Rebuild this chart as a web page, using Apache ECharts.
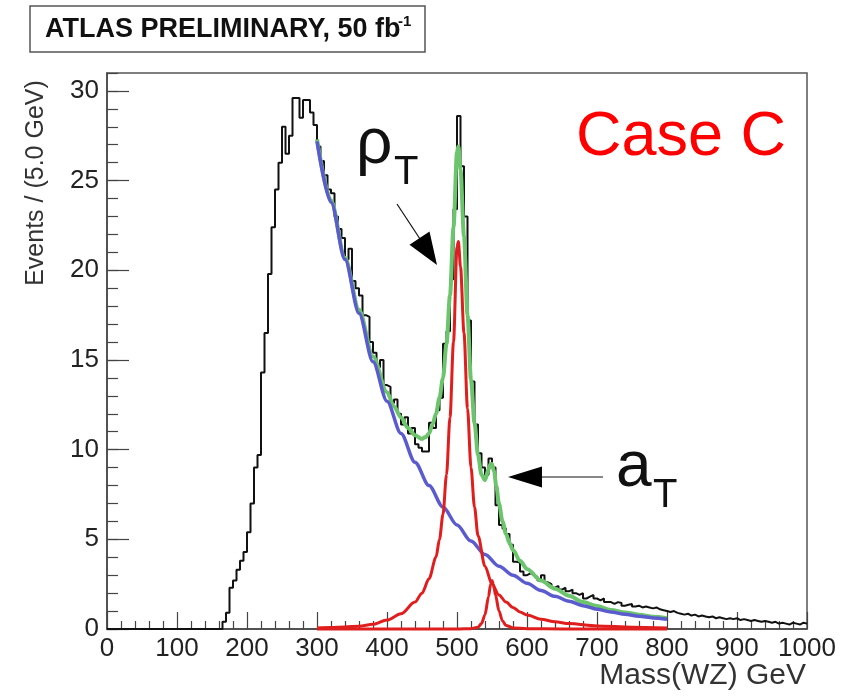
<!DOCTYPE html>
<html><head><meta charset="utf-8">
<script src="https://cdn.jsdelivr.net/npm/echarts@6/dist/echarts.min.js"></script>
<style>html,body{margin:0;padding:0;background:#fff}#c{width:849px;height:698px}</style>
</head><body><div id="c"></div>
<script>
// ---- data ----
const binWidth = 5;           // GeV per bin
const histLow = 160;          // lower edge of first listed bin
const histHigh = 1000;
const histValues = [
  0, 0.4, 0.9, 2.3, 2.7, 3.3, 3.8, 4.3,
  5.4, 7.0, 9.0, 9.7, 14.3, 16.5, 19.8, 22.4, 24.5, 26.0, 28.0, 26.5, 27.5, 29.6, 29.6, 28.5, 29.5, 29.5, 28.8, 28.1,
  26.9, 26.1, 25.3, 24.5, 24.3, 23.0, 22.3, 21.8, 20.6, 21.2, 19.4, 19.0, 18.6, 17.5, 17.4, 16.0, 15.4, 14.6, 15.0, 13.6,
  13.5, 12.6, 12.8, 12.0, 11.4, 11.8, 10.9, 11.2, 10.3, 10.1, 9.9, 9.9, 11.5, 11.2, 12.2, 12.9, 15.9, 16.6, 19.5, 23.4,
  28.6, 25.8, 23.0, 17.2, 13.8, 11.4, 9.8, 9.0, 8.6, 9.5, 9.0, 6.9, 5.8, 5.6, 5.3, 4.7, 3.75, 3.7, 3.2, 3.0,
  3.1, 3.0, 2.9, 2.7, 3.0, 2.6, 2.5, 2.3, 2.4, 2.2, 2.3, 2.1, 2.2, 2.0, 1.9, 2.0, 1.7, 1.8, 1.9, 1.7,
  1.6, 1.7, 1.5, 1.5, 1.4, 1.5, 1.45, 1.3, 1.35, 1.4, 1.25, 1.3, 1.2, 1.25, 1.2, 1.15, 1.2, 1.1, 1.05, 1.0,
  0.95, 1.0, 0.9, 0.85, 0.8, 0.85, 0.75, 0.8, 0.7, 0.75, 0.7, 0.65, 0.7, 0.6, 0.65, 0.6, 0.55, 0.6, 0.55, 0.6,
  0.5, 0.55, 0.5, 0.45, 0.5, 0.45, 0.4, 0.45, 0.4, 0.35, 0.4, 0.3, 0.35, 0.3, 0.25, 0.35, 0.3, 0.25, 0.35, 0.3
];

// background fit (blue)
const bkgX = [300,320,340,360,380,400,420,440,460,480,500,520,540,560,580,600,620,640,660,680,700,720,740,760,780,800];
const bkgY = [27.2,23.8,20.6,17.6,14.9,12.7,10.9,9.3,8.0,6.8,5.8,4.9,4.15,3.5,3.0,2.55,2.15,1.82,1.55,1.3,1.1,0.95,0.82,0.71,0.62,0.54];

// rho_T signal (red)
const rhoX = [300,320,340,360,380,400,420,440,450,460,470,475,480,485,490,495,500,502,505,510,515,520,525,530,540,550,560,570,580,590,600,620,640,660,700,750,800];
const rhoY = [0.06,0.08,0.11,0.16,0.26,0.5,0.85,1.5,2.0,2.8,4.0,5.0,6.4,8.6,11.8,16.0,21.3,21.6,20.2,16.5,12.3,9.0,6.8,5.2,3.5,2.5,1.9,1.5,1.2,0.95,0.78,0.55,0.4,0.3,0.17,0.1,0.06];

// a_T signal (red)
const aX = [300,500,520,530,535,540,545,548,550,552,555,560,565,570,580,600,650,800];
const aY = [0,0,0.02,0.1,0.3,0.8,1.8,2.5,2.7,2.5,1.9,1.0,0.45,0.2,0.06,0.02,0,0];

// total fit (green)
const totX = [300,320,340,360,380,400,410,420,430,440,450,455,460,465,470,475,480,485,490,495,500,502,505,510,515,520,525,530,535,540,545,548,550,553,556,560,565,570,575,580,590,600,620,640,660,680,700,720,740,760,780,800];
const totY = [27.3,23.9,20.7,17.8,15.2,13.2,12.4,11.8,11.2,10.8,10.6,10.7,10.9,11.4,12.0,12.9,14.0,15.9,18.6,22.4,26.6,26.9,25.6,21.9,17.5,13.9,11.5,9.7,8.6,8.3,8.9,9.2,9.2,8.8,8.0,7.0,6.0,5.3,4.8,4.4,3.8,3.35,2.7,2.25,1.85,1.5,1.28,1.06,0.92,0.8,0.68,0.6];

const xTickStep = 100;
const yMajorTicks = [0,5,10,15,20,25,30];
const xRange = [0, 1000];
const yRange = [0, 31];

// ---- build ----
const histPts = [[xRange[0], 0]];
histValues.forEach((v, i) => histPts.push([histLow + i * binWidth, v]));
histPts.push([histHigh, histValues[histValues.length - 1]]);
const zip = (xs, ys) => xs.map((x, i) => [x, ys[i]]);

const FONT = 'Liberation Sans, Arial, Helvetica, sans-serif';
const chart = echarts.init(document.getElementById('c'), null, {renderer: 'canvas'});
const curve = (name, data, color, width, z) => ({
  name, type: 'line', data, smooth: 0.3, smoothMonotone: 'x', symbol: 'none',
  lineStyle: {color, width}, z, clip: false, animation: false
});

chart.setOption({
  animation: false,
  backgroundColor: '#fff',
  grid: {left: 107, right: 42, top: 73, bottom: 69, show: true, borderColor: '#555', borderWidth: 1.5, backgroundColor: 'transparent'},
  xAxis: {
    type: 'value', min: xRange[0], max: xRange[1], interval: xTickStep,
    axisLine: {show: true, lineStyle: {color: '#444', width: 1.5}},
    axisTick: {show: true, inside: true, length: 17, lineStyle: {color: '#444', width: 1.2}},
    minorTick: {show: true, splitNumber: 5, length: 8, lineStyle: {color: '#444', width: 1.2}},
    axisLabel: {fontFamily: FONT, fontSize: 26, color: '#222', margin: 7, formatter: v => String(v)},
    splitLine: {show: false}, minorSplitLine: {show: false}
  },
  yAxis: [
    {
      type: 'value', min: yRange[0], max: yRange[1], interval: 1,
      axisLine: {show: true, lineStyle: {color: '#444', width: 1.5}},
      axisTick: {show: true, inside: true, length: 22, customValues: yMajorTicks, lineStyle: {color: '#444', width: 1.2}},
      axisLabel: {fontFamily: FONT, fontSize: 26, color: '#222', margin: 8, customValues: yMajorTicks, formatter: v => String(v)},
      splitLine: {show: false}
    },
    {
      type: 'value', min: yRange[0], max: yRange[1], interval: 1, position: 'left',
      axisLine: {show: false},
      axisTick: {show: true, inside: true, length: 11, lineStyle: {color: '#444', width: 1.2}},
      axisLabel: {show: false},
      splitLine: {show: false}
    }
  ],
  series: [
    {name: 'data', type: 'line', step: 'end', data: histPts, symbol: 'none',
     lineStyle: {color: '#111', width: 2}, z: 2, animation: false},
    curve('total', zip(totX, totY), '#6cc46c', 4, 3),
    curve('bkg', zip(bkgX, bkgY), '#5b5bd0', 3.5, 4),
    curve('rho', zip(rhoX, rhoY), '#e01e1e', 3, 5),
    curve('aT', zip(aX, aY), '#e01e1e', 3, 5)
  ],
  graphic: [
    {type: 'rect', shape: {x: 30, y: 6, width: 395, height: 46}, style: {fill: '#fff', stroke: '#555', lineWidth: 1.5}, z: 10},
    {type: 'text', x: 45, y: 30, style: {text: 'ATLAS PRELIMINARY, 50 fb', font: 'bold 27px ' + FONT, fill: '#111', textVerticalAlign: 'middle'}, z: 11},
    {type: 'text', x: 398, y: 22, style: {text: '-1', font: 'bold 15px ' + FONT, fill: '#111', textVerticalAlign: 'middle'}, z: 11},
    {type: 'text', x: 576, y: 138, style: {text: 'Case C', font: '63px ' + FONT, fill: '#ff0000', textVerticalAlign: 'middle'}, z: 11},
    {type: 'text', x: 356, y: 145, style: {text: 'ρ', font: '64px ' + FONT, fill: '#111', textVerticalAlign: 'middle'}, z: 11},
    {type: 'text', x: 394, y: 173, style: {text: 'T', font: '40px ' + FONT, fill: '#111', textVerticalAlign: 'middle'}, z: 11},
    {type: 'text', x: 616, y: 468, style: {text: 'a', font: '64px ' + FONT, fill: '#111', textVerticalAlign: 'middle'}, z: 11},
    {type: 'text', x: 653, y: 496, style: {text: 'T', font: '40px ' + FONT, fill: '#111', textVerticalAlign: 'middle'}, z: 11},
    {type: 'line', shape: {x1: 397, y1: 204, x2: 422, y2: 242}, style: {stroke: '#111', lineWidth: 1.2}, z: 11},
    {type: 'polygon', shape: {points: [[437, 265], [409.5, 244.8], [429.5, 231.6]]}, style: {fill: '#000'}, z: 11},
    {type: 'line', shape: {x1: 540, y1: 477, x2: 603, y2: 477}, style: {stroke: '#111', lineWidth: 1.2}, z: 11},
    {type: 'polygon', shape: {points: [[508, 477], [542, 466.5], [542, 487.5]]}, style: {fill: '#000'}, z: 11},
    {type: 'text', x: 36, y: 183, rotation: Math.PI / 2, style: {text: 'Events / (5.0 GeV)', font: '25px ' + FONT, fill: '#333', textAlign: 'center', textVerticalAlign: 'middle'}, z: 11},
    {type: 'text', x: 806, y: 676, style: {text: 'Mass(WZ) GeV', font: '30px ' + FONT, fill: '#333', textAlign: 'right', textVerticalAlign: 'middle'}, z: 11}
  ]
});
</script></body></html>
